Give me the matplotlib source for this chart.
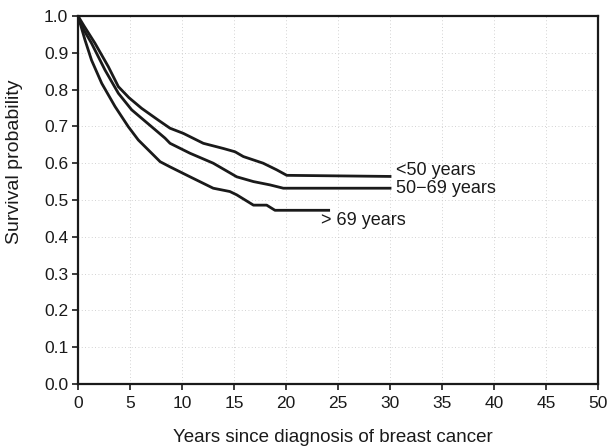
import matplotlib
matplotlib.use("Agg")
import matplotlib.pyplot as plt
import numpy as np

plt.rcParams['font.family'] = ['Liberation Sans', 'DejaVu Sans']

# Survival curves (years, survival probability)
t_lt50 = [0, 0.6, 1.63, 2.92, 3.88, 4.9, 6.12, 7.72, 8.85, 10.13, 12.05, 13.97, 15.1, 15.9, 17.8, 19.1, 20.07, 30.0]
s_lt50 = [1.0, 0.972, 0.926, 0.862, 0.808, 0.778, 0.749, 0.717, 0.695, 0.681, 0.654, 0.640, 0.631, 0.618, 0.600, 0.582, 0.567, 0.564]

t_5069 = [0, 0.5, 1.3, 2.6, 3.88, 5.16, 7.08, 8.37, 8.85, 10.77, 13.0, 15.26, 16.87, 18.46, 19.74, 30.0]
s_5069 = [1.0, 0.965, 0.926, 0.853, 0.790, 0.745, 0.699, 0.668, 0.654, 0.627, 0.600, 0.563, 0.550, 0.541, 0.532, 0.532]

t_gt69 = [0, 0.67, 1.3, 2.28, 3.56, 4.84, 5.8, 7.9, 8.85, 10.77, 13.0, 14.6, 15.26, 16.87, 18.14, 18.94, 24.1]
s_gt69 = [1.0, 0.935, 0.880, 0.817, 0.754, 0.699, 0.663, 0.604, 0.590, 0.563, 0.532, 0.523, 0.514, 0.486, 0.486, 0.472, 0.472]

labels = ['<50 years', '50\u221269 years', '> 69 years']
label_pos = [(30.55, 0.579), (30.55, 0.532), (23.35, 0.443)]

x_ticks = list(range(0, 55, 5))
y_ticks = [round(0.1 * i, 1) for i in range(11)]

fig = plt.figure(figsize=(6.08, 4.48), dpi=100)
ax = fig.add_axes([0.1283, 0.1429, 0.8553, 0.8214])

for v in x_ticks[1:-1]:
    ax.axvline(v, color='#c4c4c4', lw=0.6, ls=(0, (1, 3)), zorder=0)
for v in y_ticks[1:-1]:
    ax.axhline(v, color='#c4c4c4', lw=0.6, ls=(0, (1, 3)), zorder=0)

for t, s in [(t_lt50, s_lt50), (t_5069, s_5069), (t_gt69, s_gt69)]:
    ax.plot(t, s, color='#1a1a1a', lw=2.0, solid_joinstyle='round')

for lab, (x, y) in zip(labels, label_pos):
    ax.text(x, y, lab, fontsize=13, color='#1a1a1a', ha='left', va='center')

ax.set_xlim(0, 50)
ax.set_ylim(0, 1.0)
ax.set_xticks(x_ticks)
ax.set_yticks(y_ticks)
ax.set_yticklabels([f'{v:.1f}' for v in y_ticks])
ax.tick_params(direction='out', length=4, width=1.2, labelsize=12.5, colors='#1a1a1a')
ax.tick_params(axis='x', pad=5)
ax.tick_params(axis='y', pad=3)
for sp in ax.spines.values():
    sp.set_linewidth(1.6)
    sp.set_color('#1a1a1a')

fig.text(333 / 608, 1 - 437 / 448, 'Years since diagnosis of breast cancer',
         fontsize=13.5, color='#1a1a1a', ha='center', va='center')
fig.text(15 / 608, 1 - 161.5 / 448, 'Survival probability', rotation=90,
         fontsize=14, color='#1a1a1a', ha='center', va='center')

fig.savefig('out.png', dpi=100)
